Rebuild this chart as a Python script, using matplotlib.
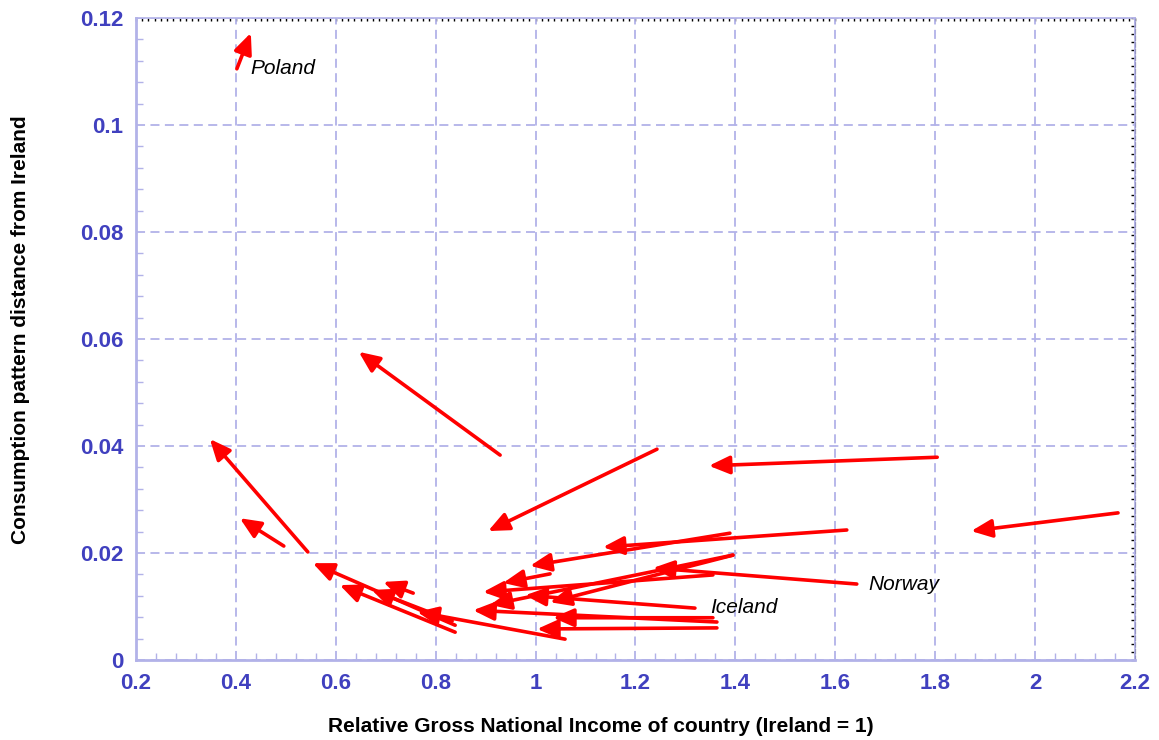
import numpy as np
import matplotlib
matplotlib.use('Agg')
import matplotlib.pyplot as plt
from matplotlib.ticker import MultipleLocator

plt.rcParams['font.family'] = ['Liberation Sans', 'DejaVu Sans']

# start (earlier year) and end (later year) of each country's move
x_start = [0.402, 0.929, 1.243, 1.804, 2.166, 0.544, 0.496, 0.755, 0.839, 0.839,
           0.833, 1.059, 1.623, 1.389, 1.643, 1.029, 1.363, 1.355, 1.363, 1.395,
           1.395, 1.355, 1.319]
y_start = [0.1105, 0.0383, 0.0394, 0.0379, 0.0275, 0.0202, 0.0213, 0.0125, 0.0065, 0.0052,
           0.0073, 0.0039, 0.0243, 0.0237, 0.0142, 0.0161, 0.0060, 0.0079, 0.0071, 0.0196,
           0.0196, 0.0159, 0.0097]
x_end = [0.430, 0.646, 0.905, 1.347, 1.872, 0.348, 0.408, 0.695, 0.554, 0.608,
         0.672, 0.763, 1.135, 0.989, 1.235, 0.935, 1.003, 1.035, 0.875, 1.029,
         0.909, 0.895, 0.979]
y_end = [0.1172, 0.0576, 0.0241, 0.0363, 0.0241, 0.0413, 0.0265, 0.0146, 0.0181, 0.0140,
         0.0131, 0.0090, 0.0211, 0.0176, 0.0172, 0.0144, 0.0058, 0.0079, 0.0093, 0.0108,
         0.0103, 0.0127, 0.0121]

labels = ['Poland', 'Norway', 'Iceland']
label_x = [0.430, 1.667, 1.349]
label_y = [0.1105, 0.0141, 0.0099]

blue = '#4040BF'
lav = '#B2B2E8'

fig = plt.figure(figsize=(11.59, 7.40), dpi=100)
ax = fig.add_axes([0.1173, 0.1081, 0.8620, 0.8676])

for x0, y0, x1, y1 in zip(x_start, y_start, x_end, y_end):
    ax.annotate('', xy=(x1, y1), xytext=(x0, y0),
                arrowprops=dict(arrowstyle='-|>,head_length=0.5,head_width=0.22',
                                color='red', lw=2.6, mutation_scale=25,
                                shrinkA=0, shrinkB=0), zorder=3)

for t, lx, ly in zip(labels, label_x, label_y):
    ax.text(lx, ly, t, style='italic', fontsize=15, ha='left', va='center')

ax.set_xlim(0.2, 2.2)
ax.set_ylim(0, 0.12)
ax.xaxis.set_major_locator(MultipleLocator(0.2))
ax.xaxis.set_minor_locator(MultipleLocator(0.04))
ax.yaxis.set_major_locator(MultipleLocator(0.02))
ax.yaxis.set_minor_locator(MultipleLocator(0.004))
ax.xaxis.set_major_formatter(lambda v, p: f'{v:g}')
ax.yaxis.set_major_formatter(lambda v, p: f'{v:g}')

ax.grid(True, which='major', color=lav, linestyle=(0, (5, 3)), lw=1.3)
ax.set_axisbelow(True)
for s in ['left', 'bottom']:
    ax.spines[s].set_color(lav)
    ax.spines[s].set_linewidth(2)
for s in ['top', 'right']:
    ax.spines[s].set_color(lav)
    ax.spines[s].set_linewidth(1.2)

ax.tick_params(which='both', direction='in', color=lav, labelcolor=blue)
ax.tick_params(which='major', length=0, width=1.5, labelsize=16, pad=9)
ax.tick_params(which='minor', length=5, width=1)
for lab in ax.get_xticklabels() + ax.get_yticklabels():
    lab.set_fontweight('bold')

# dense black ticks along top and right edges
top = ax.secondary_xaxis('top')
top.xaxis.set_major_locator(MultipleLocator(0.0125))
top.tick_params(direction='in', length=2, width=1, color='black', labeltop=False)
top.spines['top'].set_visible(False)
right = ax.secondary_yaxis('right')
right.yaxis.set_major_locator(MultipleLocator(0.0015))
right.tick_params(direction='in', length=3, width=1, color='black', labelright=False)
right.spines['right'].set_color('black')
right.spines['right'].set_linestyle((0, (4, 2)))

fig.text(0.518, 0.0176, 'Relative Gross National Income of country (Ireland = 1)',
         fontsize=15, fontweight='bold', ha='center', va='center')
fig.text(0.018, 0.555, 'Consumption pattern distance from Ireland',
         fontsize=15, fontweight='bold', ha='center', va='center', rotation=90)

fig.savefig('out.png', dpi=100)
